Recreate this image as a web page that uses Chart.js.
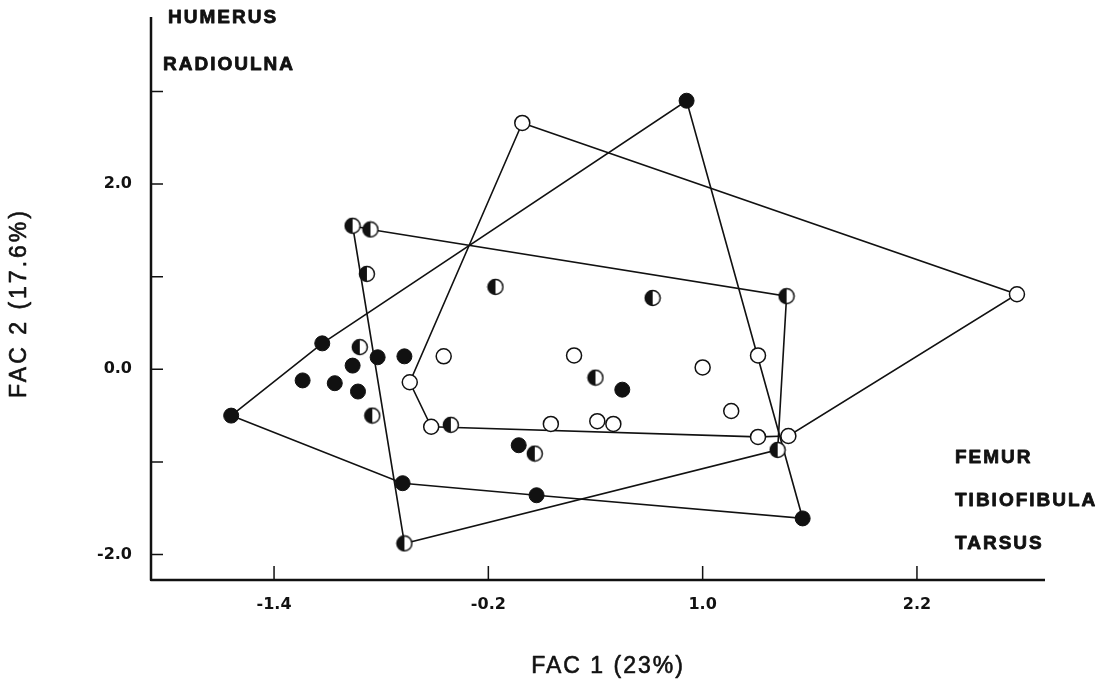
<!DOCTYPE html>
<html>
<head>
<meta charset="utf-8">
<script src="https://cdn.jsdelivr.net/npm/chart.js@4/dist/chart.umd.min.js"></script>
<style>
  body { margin: 0; background: #fff; }
  canvas { display: block; }
</style>
</head>
<body>
<canvas id="myChart" width="1107" height="680"></canvas>
<script>
// точки: закрашенные, наполовину закрашенные, пустые
const filledX = [-1.64, -1.13, 0.91, 1.56, 0.07, -0.68, -1.24, -1.06, -0.96, -0.93, -0.82, -0.67, 0.55, -0.03]
const filledY = [-0.50, 0.28, 2.90, -1.61, -1.36, -1.23, -0.12, -0.15, 0.04, -0.24, 0.13, 0.14, -0.22, -0.82]
const filledHull = [0, 1, 2, 3, 4, 5]

const halfX = [-0.96, -0.86, 1.47, 1.42, -0.67, -0.88, -0.92, -0.85, -0.16, 0.72, 0.40, -0.41, 0.06]
const halfY = [1.55, 1.51, 0.79, -0.87, -1.88, 1.03, 0.24, -0.50, 0.89, 0.77, -0.09, -0.60, -0.91]
const halfHull = [0, 1, 2, 3, 4]

const openX = [-0.01, 2.76, 1.48, 1.31, -0.52, -0.64, -0.45, 0.28, 0.15, 0.41, 0.50, 1.00, 1.16, 1.31]
const openY = [2.66, 0.81, -0.72, -0.73, -0.62, -0.14, 0.14, 0.15, -0.59, -0.56, -0.59, 0.02, -0.45, 0.15]
const openHull = [0, 1, 2, 3, 4, 5]

// оси
const xTicks = [-1.4, -0.2, 1.0, 2.2]
const yTicks = [-2, -1, 0, 1, 2, 3]
const yLabeled = [-2, 0, 2]
const xTitle = 'FAC 1 (23%)'
const yTitle = 'FAC 2 (17.6%)'
const topLabels = ['HUMERUS', 'RADIOULNA']
const bottomLabels = ['FEMUR', 'TIBIOFIBULA', 'TARSUS']

const ink = '#111'

function toPoints(xs, ys) {
  return xs.map((v, i) => ({ x: v, y: ys[i] }))
}
function hullPoints(xs, ys, hull) {
  let pts = hull.map(i => ({ x: xs[i], y: ys[i] }))
  pts.push(pts[0])
  return pts
}

// маркер: левая половина чёрная
function halfMarker() {
  const c = document.createElement('canvas')
  c.width = 18
  c.height = 18
  const g = c.getContext('2d')
  g.fillStyle = '#fff'
  g.beginPath()
  g.arc(9, 9, 7.5, 0, Math.PI * 2)
  g.fill()
  g.fillStyle = ink
  g.beginPath()
  g.arc(9, 9, 7.5, Math.PI / 2, Math.PI * 1.5)
  g.fill()
  g.strokeStyle = ink
  g.lineWidth = 1.5
  g.beginPath()
  g.arc(9, 9, 7.5, 0, Math.PI * 2)
  g.stroke()
  return c
}

function hullSet(data) {
  return {
    data: data,
    showLine: true,
    borderColor: ink,
    borderWidth: 1.6,
    pointRadius: 0,
    fill: false,
    order: 2,
  }
}

// текст потолще, как в оригинале
function boldText(ctx, text, x, y, w) {
  ctx.lineWidth = w
  ctx.strokeText(text, x, y)
  ctx.fillText(text, x, y)
}

const frame = {
  id: 'frame',
  afterDraw(chart) {
    const { ctx, chartArea: a, scales: { x, y } } = chart
    ctx.save()
    ctx.strokeStyle = ink
    ctx.lineJoin = 'round'
    ctx.lineWidth = 2.5
    ctx.beginPath()
    ctx.moveTo(a.left, a.top)
    ctx.lineTo(a.left, a.bottom)
    ctx.lineTo(a.right, a.bottom)
    ctx.stroke()

    ctx.lineWidth = 1.5
    ctx.beginPath()
    x.ticks.forEach(t => {
      const px = x.getPixelForValue(t.value)
      ctx.moveTo(px, a.bottom)
      ctx.lineTo(px, a.bottom - 14)
    })
    y.ticks.forEach(t => {
      const py = y.getPixelForValue(t.value)
      ctx.moveTo(a.left, py)
      ctx.lineTo(a.left + 12, py)
    })
    ctx.stroke()

    ctx.fillStyle = ink
    ctx.textBaseline = 'middle'
    ctx.font = 'bold 19px "Liberation Sans"'
    ctx.letterSpacing = '2px'
    ctx.textAlign = 'left'
    boldText(ctx, topLabels[0], 168, 18, 0.8)
    boldText(ctx, topLabels[1], 163, 65, 0.8)
    boldText(ctx, bottomLabels[0], 955, 458, 0.8)
    boldText(ctx, bottomLabels[1], 955, 501, 0.8)
    boldText(ctx, bottomLabels[2], 955, 544, 0.8)

    ctx.font = '23px "Liberation Sans"'
    ctx.letterSpacing = '2px'
    ctx.textAlign = 'center'
    boldText(ctx, xTitle, 608, 667, 0.6)
    ctx.letterSpacing = '3px'
    ctx.translate(20, 303)
    ctx.rotate(-Math.PI / 2)
    boldText(ctx, yTitle, 0, 0, 0.6)
    ctx.restore()
  }
}

new Chart(document.getElementById('myChart'), {
  type: 'scatter',
  data: {
    datasets: [
      {
        data: toPoints(filledX, filledY),
        pointRadius: 7.5,
        pointBackgroundColor: ink,
        pointBorderColor: ink,
        pointBorderWidth: 1,
        order: 1,
      },
      {
        data: toPoints(halfX, halfY),
        pointStyle: halfMarker(),
        pointRadius: 7.5,
        order: 1,
      },
      {
        data: toPoints(openX, openY),
        pointRadius: 7.5,
        pointBackgroundColor: '#fff',
        pointBorderColor: ink,
        pointBorderWidth: 1.5,
        order: 1,
      },
      hullSet(hullPoints(filledX, filledY, filledHull)),
      hullSet(hullPoints(halfX, halfY, halfHull)),
      hullSet(hullPoints(openX, openY, openHull)),
    ],
  },
  options: {
    responsive: false,
    animation: false,
    devicePixelRatio: 1,
    layout: { padding: { top: 17, right: 62, left: 0, bottom: 0 } },
    plugins: {
      legend: { display: false },
      tooltip: { enabled: false },
    },
    scales: {
      x: {
        type: 'linear',
        min: -2.089,
        max: 2.917,
        grid: { display: false, drawTicks: false },
        border: { display: false },
        afterBuildTicks: scale => { scale.ticks = xTicks.map(v => ({ value: v })) },
        afterFit: scale => {
          scale.height = 100
          scale.paddingLeft = 0
          scale.paddingRight = 0
        },
        ticks: {
          padding: 15,
          color: ink,
          font: { family: 'DejaVu Sans', weight: 'bold', size: 16 },
          callback: v => v.toFixed(1),
        },
      },
      y: {
        type: 'linear',
        min: -2.275,
        max: 3.804,
        grid: { display: false, drawTicks: false },
        border: { display: false },
        afterBuildTicks: scale => { scale.ticks = yTicks.map(v => ({ value: v })) },
        afterFit: scale => {
          scale.width = 151
          scale.paddingTop = 0
          scale.paddingBottom = 0
        },
        ticks: {
          padding: 19,
          color: ink,
          font: { family: 'DejaVu Sans', weight: 'bold', size: 16 },
          callback: v => yLabeled.includes(v) ? v.toFixed(1) : '',
        },
      },
    },
  },
  plugins: [frame],
})
</script>
</body>
</html>
